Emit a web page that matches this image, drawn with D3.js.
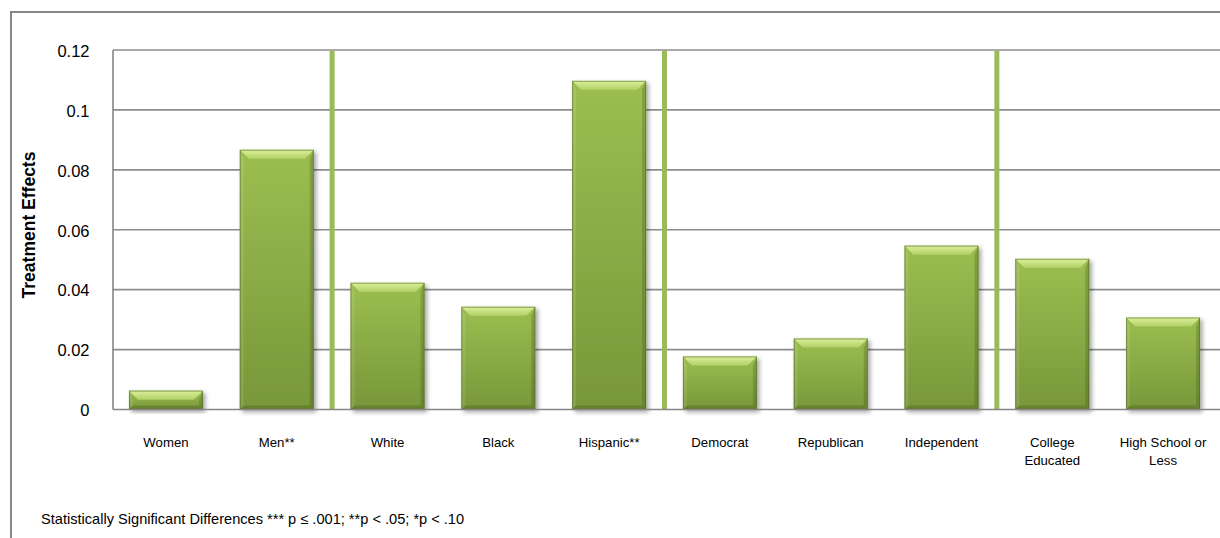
<!DOCTYPE html>
<html>
<head>
<meta charset="utf-8">
<script src="https://cdn.jsdelivr.net/npm/d3@7/dist/d3.min.js"></script>
<style>
  html, body { margin: 0; padding: 0; background: #ffffff; }
  svg { display: block; }
  text { font-family: "Liberation Sans", Arial, sans-serif; fill: #000; }
</style>
</head>
<body>
<svg id="chart" width="1220" height="538"></svg>
<script>
// Subgroup treatment effects
const categories = ["Women", "Men**", "White", "Black", "Hispanic**",
                    "Democrat", "Republican", "Independent",
                    "College Educated", "High School or Less"];
const effects = [0.0063, 0.0867, 0.0423, 0.0343, 0.1097,
                 0.0177, 0.0237, 0.0547, 0.0503, 0.0307];
// groups are separated after these categories
const groupEnds = ["Men**", "Hispanic**", "Independent"];
const tickValues = [0, 0.02, 0.04, 0.06, 0.08, 0.1, 0.12];
const tickLabels = ["0", "0.02", "0.04", "0.06", "0.08", "0.1", "0.12"];
const yTitle = "Treatment Effects";
const footnote = "Statistically Significant Differences *** p \u2264 .001; **p < .05; *p < .10";

const svg = d3.select("#chart");
const W = 1220, H = 538;

const plot = { left: 113, top: 50, bottom: 409.5, right: 1216 };

const x = d3.scaleBand()
  .domain(categories)
  .range([plot.left, plot.right])
  .paddingInner(0.332)
  .paddingOuter(0.144);

const y = d3.scaleLinear()
  .domain([0, 0.12])
  .range([plot.bottom, plot.top]);

// ---- defs: gradients and shadow
const defs = svg.append("defs");
const body = defs.append("linearGradient").attr("id", "barBody")
  .attr("x1", 0).attr("y1", 0).attr("x2", 0).attr("y2", 1);
body.append("stop").attr("offset", "0%").attr("stop-color", "#9cbe50");
body.append("stop").attr("offset", "100%").attr("stop-color", "#78973a");

const topFace = defs.append("linearGradient").attr("id", "barTop")
  .attr("x1", 0).attr("y1", 0).attr("x2", 0).attr("y2", 1);
topFace.append("stop").attr("offset", "0%").attr("stop-color", "#dcf09c");
topFace.append("stop").attr("offset", "100%").attr("stop-color", "#b2d066");

const shadow = defs.append("filter").attr("id", "barShadow")
  .attr("x", "-20%").attr("y", "-20%").attr("width", "140%").attr("height", "140%");
shadow.append("feDropShadow")
  .attr("dx", 2.5).attr("dy", 2.5).attr("stdDeviation", 2)
  .attr("flood-color", "#000").attr("flood-opacity", 0.35);

// ---- outer chart border
svg.append("rect")
  .attr("x", 11).attr("y", 12)
  .attr("width", W + 40).attr("height", H + 40)
  .attr("fill", "none").attr("stroke", "#868686").attr("stroke-width", 2);

// ---- horizontal gridlines
svg.append("g").selectAll("line")
  .data(tickValues.filter(d => d > 0))
  .join("line")
  .attr("x1", plot.left).attr("x2", W + 2)
  .attr("y1", d => y(d)).attr("y2", d => y(d))
  .attr("stroke", "#8c8c8c").attr("stroke-width", 1.6);

// ---- bars with bevelled faces
const bw = x.bandwidth();
const bars = svg.append("g").selectAll("g")
  .data(categories.map((c, i) => ({ c, v: effects[i] })))
  .join("g")
  .attr("filter", "url(#barShadow)");

bars.each(function (d) {
  const g = d3.select(this);
  const x0 = x(d.c), y0 = y(d.v), h = y(0) - y(d.v), w = bw;
  const b = Math.min(9, h / 2);
  const bs = Math.min(4, h / 2);
  g.append("rect")
    .attr("x", x0).attr("y", y0).attr("width", w).attr("height", h)
    .attr("fill", "url(#barBody)");
  // top face
  g.append("path")
    .attr("d", `M${x0},${y0}L${x0 + w},${y0}L${x0 + w - b},${y0 + b}L${x0 + b},${y0 + b}Z`)
    .attr("fill", "url(#barTop)");
  // left face
  g.append("path")
    .attr("d", `M${x0},${y0}L${x0 + bs},${y0 + b}L${x0 + bs},${y0 + h - bs}L${x0},${y0 + h}Z`)
    .attr("fill", "#ffffff").attr("fill-opacity", 0.1);
  // right face
  g.append("path")
    .attr("d", `M${x0 + w},${y0}L${x0 + w - bs},${y0 + b}L${x0 + w - bs},${y0 + h - bs}L${x0 + w},${y0 + h}Z`)
    .attr("fill", "#2f4010").attr("fill-opacity", 0.22);
  // bottom face
  g.append("path")
    .attr("d", `M${x0},${y0 + h}L${x0 + bs},${y0 + h - bs}L${x0 + w - bs},${y0 + h - bs}L${x0 + w},${y0 + h}Z`)
    .attr("fill", "#2f4010").attr("fill-opacity", 0.25);
  // edge
  g.append("rect")
    .attr("x", x0 + 0.5).attr("y", y0 + 0.5).attr("width", w - 1).attr("height", h - 1)
    .attr("fill", "none").attr("stroke", "#4d6520").attr("stroke-opacity", 0.55).attr("stroke-width", 1);
});

// ---- group separators
const sepX = d => {
  const i = categories.indexOf(d);
  return (x(categories[i]) + bw + x(categories[i + 1])) / 2;
};
svg.append("g").selectAll("line")
  .data(groupEnds)
  .join("line")
  .attr("x1", sepX).attr("x2", sepX)
  .attr("y1", y(0.12) + 1).attr("y2", y(0))
  .attr("stroke", "#9bbb59").attr("stroke-width", 5);

// ---- axes lines
svg.append("line")
  .attr("x1", plot.left).attr("x2", plot.left)
  .attr("y1", y(0.12)).attr("y2", y(0))
  .attr("stroke", "#868686").attr("stroke-width", 1.6);
svg.append("line")
  .attr("x1", plot.left).attr("x2", W + 2)
  .attr("y1", y(0)).attr("y2", y(0))
  .attr("stroke", "#868686").attr("stroke-width", 1.6);

// ---- y axis tick labels
const yAxis = d3.axisLeft(y)
  .tickValues(tickValues)
  .tickFormat((d, i) => tickLabels[i])
  .tickSize(0)
  .tickPadding(23.5);
const ya = svg.append("g")
  .attr("transform", `translate(${plot.left},0)`)
  .call(yAxis);
ya.select(".domain").remove();
ya.selectAll("text")
  .attr("font-family", "Liberation Sans, Arial, sans-serif")
  .attr("font-size", 16.5).attr("fill", "#000").attr("dy", "0.38em");

// ---- x axis category labels (wrapped)
const xAxis = d3.axisBottom(x).tickSize(0).tickPadding(0);
const xa = svg.append("g")
  .attr("transform", `translate(0,${y(0)})`)
  .call(xAxis);
xa.select(".domain").remove();
xa.selectAll("text")
  .attr("font-family", "Liberation Sans, Arial, sans-serif")
  .attr("font-size", 13.2).attr("fill", "#000")
  .attr("y", 0).attr("dy", null)
  .each(function (d) {
    const t = d3.select(this);
    const words = d.split(" ");
    const lines = [];
    let cur = "";
    t.text(null);
    const probe = t.append("tspan");
    words.forEach(wd => {
      const test = cur ? cur + " " + wd : wd;
      probe.text(test);
      if (probe.node().getComputedTextLength() > 100 && cur) {
        lines.push(cur);
        cur = wd;
      } else {
        cur = test;
      }
    });
    lines.push(cur);
    probe.remove();
    lines.forEach((ln, i) => {
      t.append("tspan").attr("x", 0).attr("y", 37 + i * 18).text(ln);
    });
  });

// ---- y axis title
svg.append("text")
  .attr("transform", "translate(35,225) rotate(-90)")
  .attr("text-anchor", "middle")
  .attr("font-size", 17.5).attr("font-weight", "bold")
  .text(yTitle);

// ---- footnote
svg.append("text")
  .attr("x", 41).attr("y", 524)
  .attr("font-size", 14.6)
  .text(footnote);
</script>
</body>
</html>
